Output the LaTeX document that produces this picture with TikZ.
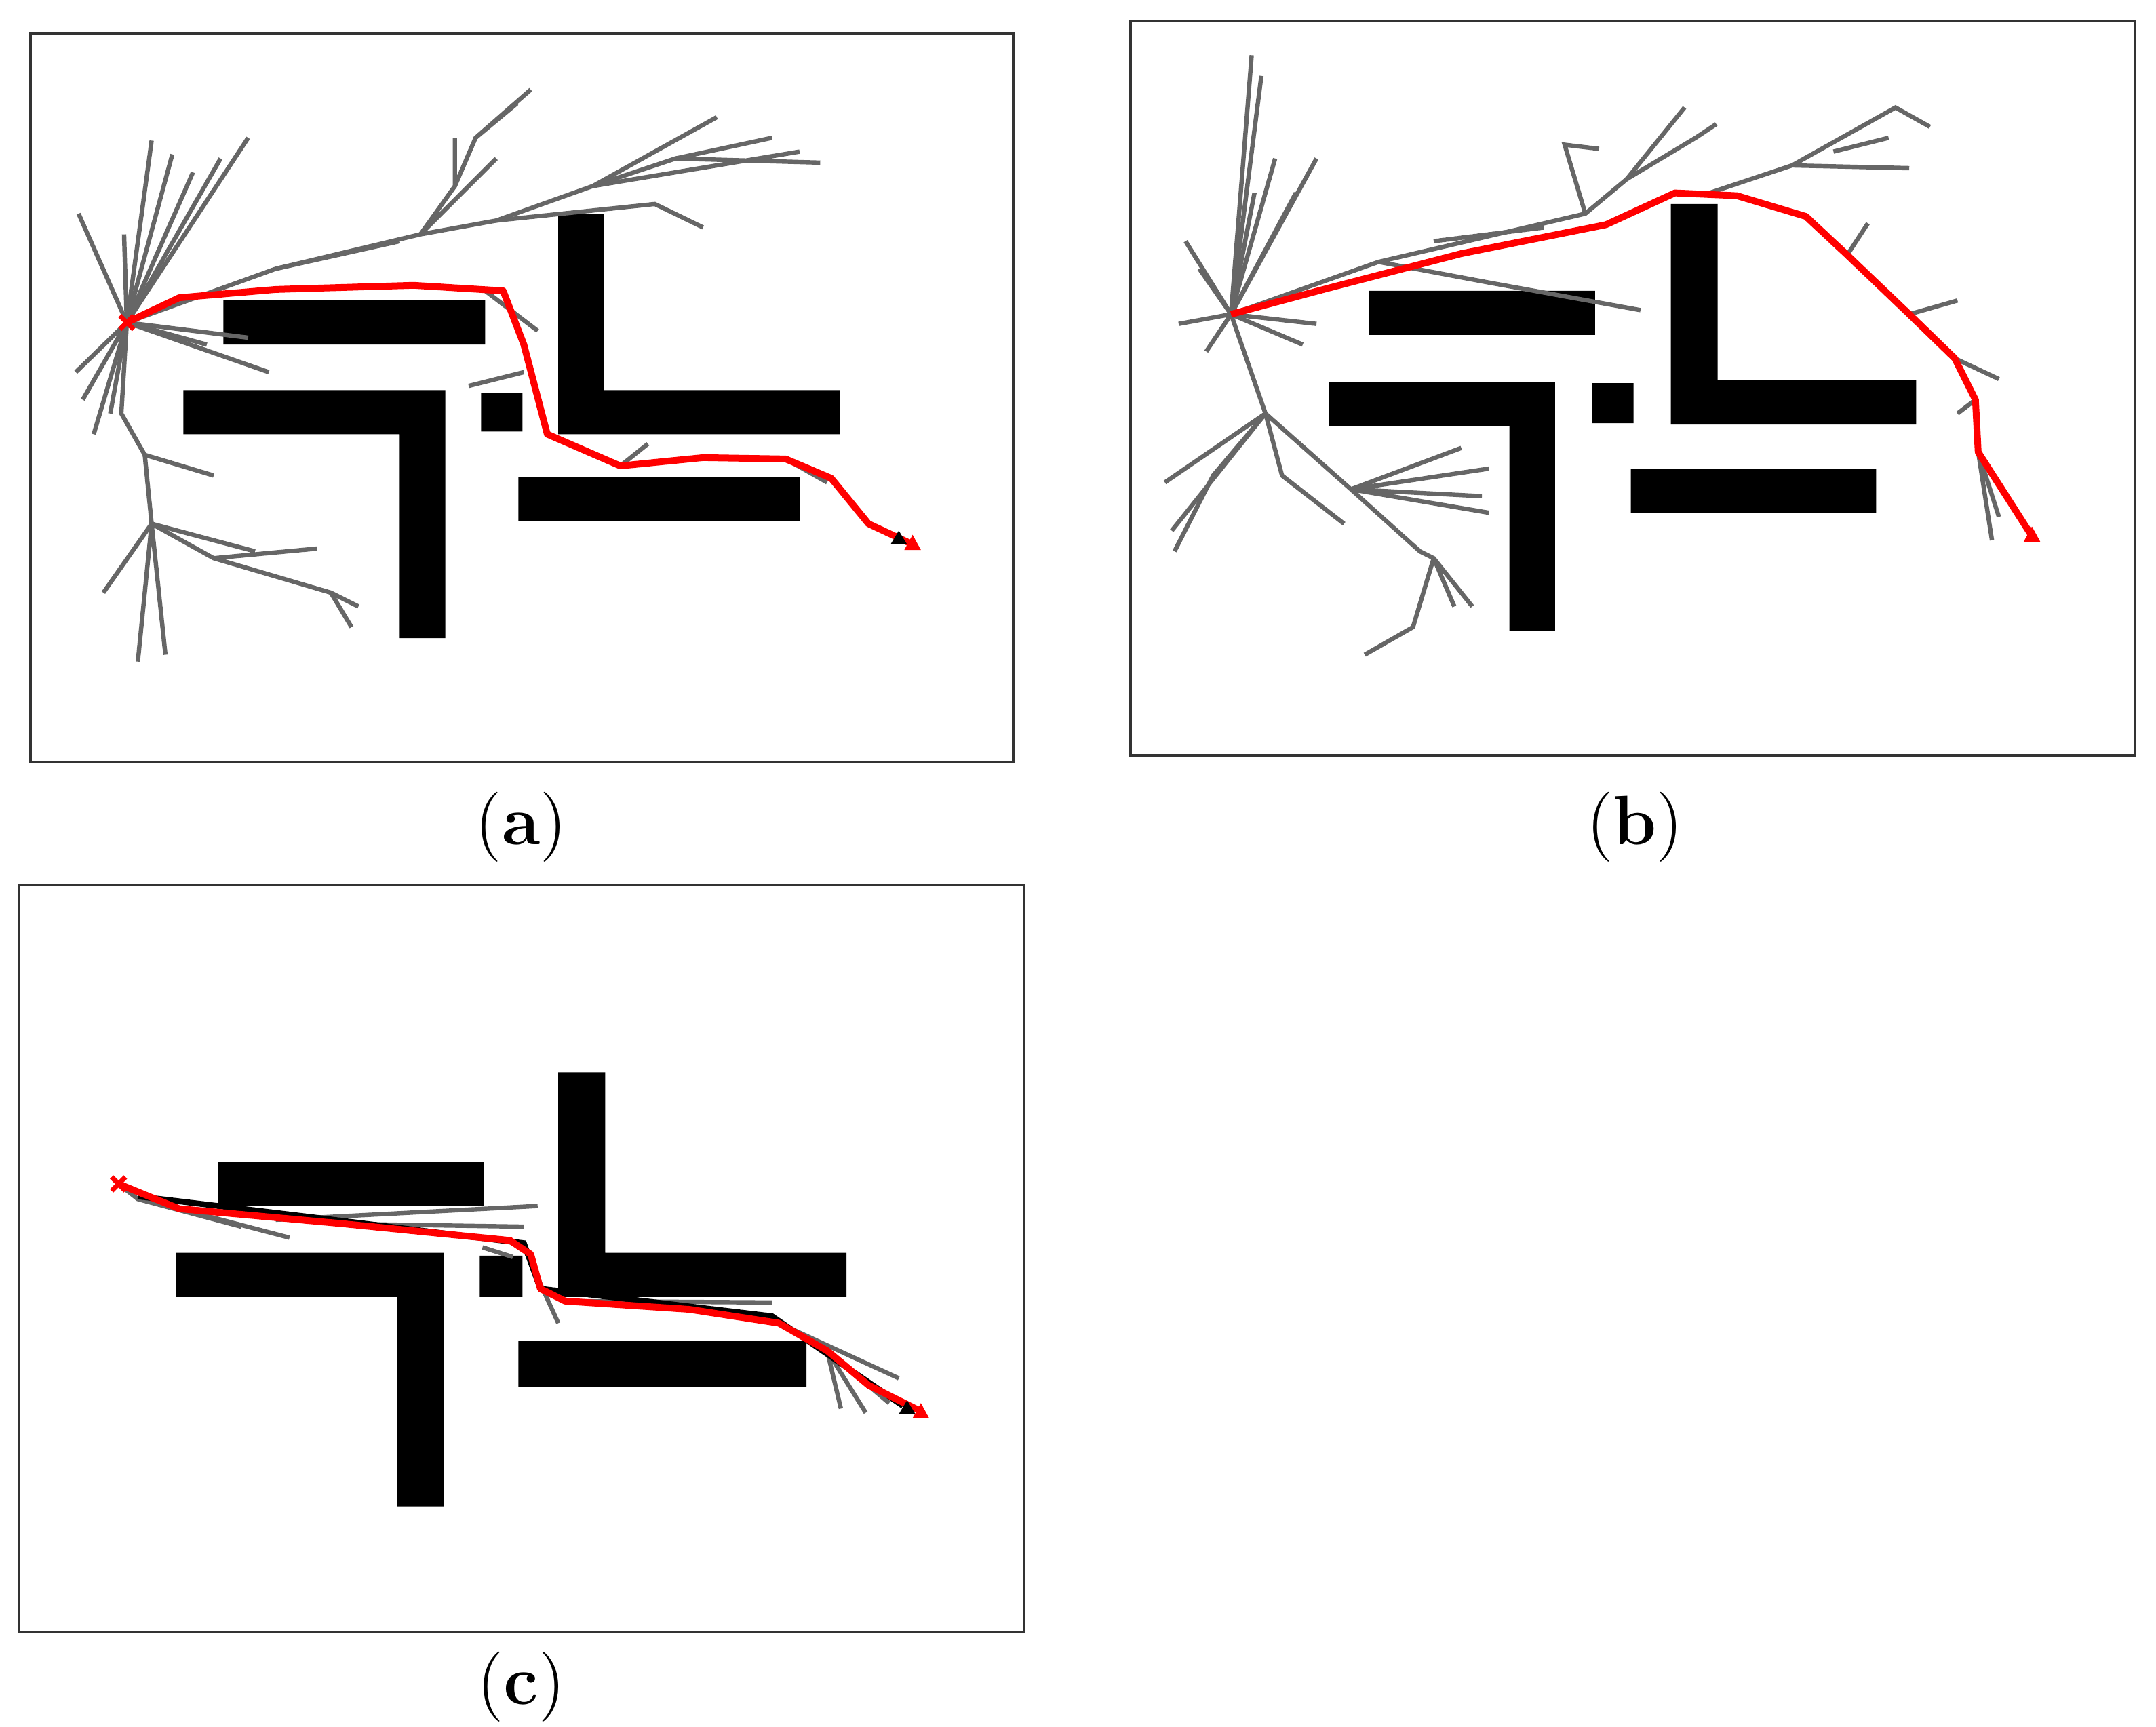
\documentclass[tikz,border=0pt]{standalone}
\begin{document}
\begin{tikzpicture}[x=0.01cm,y=-0.01cm,
    frame/.style={draw=black!80, line width=0.5pt},
    wall/.style={fill=black},
    branch/.style={black!60, line width=0.9pt},
    route/.style={red, line width=1.4pt, line join=round},
    lbl/.style={font=\Large}]

    \useasboundingbox (0,0) rectangle (1564,1253);

    % ---------- (a) ----------
    \draw[frame] (22,24) rectangle (735,553);
    \fill[wall] (162,218) rectangle (352,250)
                (133,283) rectangle (323,315)
                (290,283) rectangle (323,463)
                (349,285) rectangle (379,313)
                (405,155) rectangle (438,313)
                (405,283) rectangle (609,315)
                (376,346) rectangle (580,378);
    \coordinate (sa) at (92,234);
    \foreach \p in {(57,155),(90,170),(110,102),(125,112),(140,125),(160,115),(180,100),
                    (60,290),(55,270),(68,315),(80,300),(150,250),(195,270),(180,245)}
        \draw[branch] (sa) -- \p;
    \draw[branch] (sa) -- (88,300) -- (105,330) -- (110,380) -- (155,405) -- (240,430) -- (260,440);
    \draw[branch] (110,380) -- (120,475) (110,380) -- (100,480) (110,380) -- (75,430)
                  (155,405) -- (230,398) (240,430) -- (255,455) (105,330) -- (155,345)
                  (110,380) -- (185,400);
    \draw[branch] (sa) -- (200,195) -- (305,170) -- (360,160) -- (430,135) -- (490,115) -- (560,100);
    \draw[branch] (490,115) -- (595,118) (430,135) -- (520,85) (430,135) -- (580,110)
                  (305,170) -- (330,135) -- (345,100) -- (385,65) (330,135) -- (330,100)
                  (345,100) -- (375,75) (305,170) -- (360,115)
                  (360,160) -- (475,148) -- (510,165) (200,195) -- (290,175)
                  (352,211) -- (390,240) (380,270) -- (340,280)
                  (570,333) -- (600,350) (450,338) -- (470,322);
    \draw[route] (sa) -- (130,216) -- (200,210) -- (300,207) -- (365,211) -- (380,250)
                 -- (397,315) -- (450,338) -- (510,332) -- (570,333) -- (603,347)
                 -- (630,380) -- (662,395);
    \fill (646,395) -- (652,385) -- (658,395) -- cycle;
    \fill[red] (656,399) -- (662,388) -- (668,399) -- cycle;
    \draw[red, line width=1pt] (sa) ++(-5,-5) -- ++(10,10) (sa) ++(-5,5) -- ++(10,-10);
    \node[lbl] (la) at (378,600) {(\textbf{a})};

    % ---------- (b) ----------
    \draw[frame] (820,15) rectangle (1549,548);
    \fill[wall] (993,211) rectangle (1157,243)
                (964,277) rectangle (1128,309)
                (1095,277) rectangle (1128,458)
                (1155,278) rectangle (1185,307)
                (1212,148) rectangle (1246,307)
                (1212,276) rectangle (1390,308)
                (1183,340) rectangle (1361,372);
    \coordinate (sb) at (893,228);
    \foreach \p in {(908,40),(915,55),(910,140),(955,115),(940,140),(860,175),(855,235),
                    (870,195),(875,255),(900,170),(925,115),(945,250),(955,235)}
        \draw[branch] (sb) -- \p;
    \draw[branch] (sb) -- (1000,190) -- (1150,155) -- (1180,130) -- (1230,100) -- (1245,90);
    \draw[branch] (1150,155) -- (1135,105) -- (1160,108) (1180,130) -- (1222,78)
                  (1240,140) -- (1300,120) -- (1385,122) (1300,120) -- (1375,78) -- (1400,92)
                  (1330,110) -- (1370,100) (1000,190) -- (1080,205) -- (1190,225)
                  (1040,175) -- (1120,165)
                  (1340,185) -- (1355,162) (1385,228) -- (1420,218) (1418,260) -- (1450,275)
                  (1433,290) -- (1420,300) (1435,328) -- (1445,392) (1435,328) -- (1450,375);
    \draw[branch] (sb) -- (918,300) -- (880,345) -- (852,400);
    \draw[branch] (918,300) -- (850,385) (918,300) -- (845,350)
                  (918,300) -- (930,345) -- (975,380)
                  (918,300) -- (980,355) -- (1080,372)
                  (980,355) -- (1075,360) (980,355) -- (1080,340) (980,355) -- (1060,325)
                  (980,355) -- (1030,400) -- (1040,405) -- (1025,455) -- (990,475)
                  (1040,405) -- (1068,440) (1040,405) -- (1055,440);
    \draw[route] (sb) -- (960,210) -- (1060,184) -- (1165,163) -- (1215,140) -- (1260,142)
                 -- (1310,157) -- (1340,185) -- (1385,228) -- (1418,260) -- (1433,290)
                 -- (1435,328) -- (1474,389);
    \fill[red] (1468,393) -- (1474,382) -- (1480,393) -- cycle;
    \node[lbl] (lb) at (1186,600) {(\textbf{b})};

    % ---------- (c) ----------
    \draw[frame] (14,642) rectangle (743,1184);
    \fill[wall] (158,843) rectangle (351,875)
                (128,909) rectangle (322,941)
                (288,909) rectangle (322,1093)
                (348,911) rectangle (379,941)
                (405,778) rectangle (439,941)
                (405,909) rectangle (614,941)
                (376,973) rectangle (585,1006);
    \coordinate (sc) at (86,859);
    \draw[branch] (sc) -- (100,870) -- (175,890) (200,885) -- (390,875)
                  (130,877) -- (210,898) (250,888) -- (380,890) (380,905) -- (405,960)
                  (410,944) -- (560,945) (565,960) -- (652,1000) (600,980) -- (610,1022)
                  (600,980) -- (628,1025) (600,980) -- (645,1018) (350,905) -- (372,912);
    \draw[black, line width=1.2pt] (100,868) -- (250,886) -- (380,902) -- (392,935) -- (560,955) -- (655,1020);
    \draw[route] (sc) -- (130,877) -- (250,888) -- (370,900) -- (385,910) -- (392,935)
                 -- (410,944) -- (500,950) -- (565,960) -- (600,980) -- (630,1005) -- (668,1024);
    \fill (652,1026) -- (658,1016) -- (664,1026) -- cycle;
    \fill[red] (662,1029) -- (668,1018) -- (674,1029) -- cycle;
    \draw[red, line width=1pt] (sc) ++(-5,-5) -- ++(10,10) (sc) ++(-5,5) -- ++(10,-10);
    \node[lbl] (lc) at (378,1224) {(\textbf{c})};

\end{tikzpicture}
\end{document}
